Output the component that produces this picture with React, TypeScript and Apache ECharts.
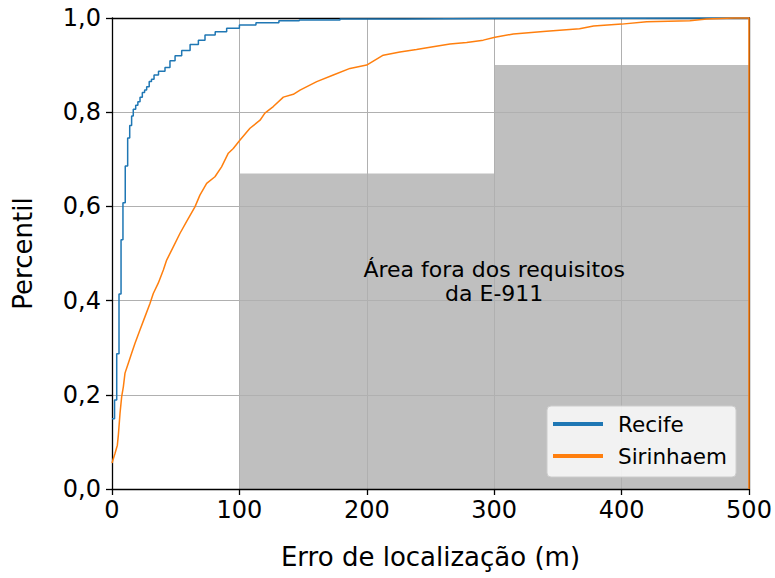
import React, { useEffect, useRef } from "react";
import * as echarts from "echarts";

// Recife CDF: error (m) at which the cumulative fraction changes, and its new value
const recifeX = [0, 2, 3.7, 5.5, 7.1, 8.6, 10.4, 12.3, 13.9, 15.4, 16.7, 18.6, 20.3, 22, 23.8, 25.6, 27.2, 29.2, 31, 33, 36.5, 41.6, 45.5, 49.5, 54.7, 61.3, 67.8, 73, 81, 90, 100, 113, 131, 147, 179, 230, 300, 500];
const recifeY = [0.149, 0.189, 0.287, 0.414, 0.529, 0.608, 0.686, 0.745, 0.772, 0.792, 0.806, 0.815, 0.822, 0.832, 0.842, 0.847, 0.854, 0.865, 0.87, 0.879, 0.887, 0.895, 0.909, 0.92, 0.931, 0.944, 0.953, 0.964, 0.971, 0.978, 0.985, 0.99, 0.994, 0.996, 0.998, 0.999, 1.0, 1.0];

// Sirinhaem CDF (fine steps, drawn as a continuous trace), ends with the drop at 500 m
const sirinhaemX = [0, 2.4, 4.2, 5, 6.3, 7.6, 8.9, 10.2, 12.8, 15.4, 18, 22, 25.9, 29.8, 32.4, 36.3, 40.3, 42.9, 48.1, 53.4, 58.6, 65.1, 69, 74.3, 80.8, 86, 91.3, 95.2, 100.5, 108.3, 116.2, 120, 126.6, 134.5, 142.3, 147.6, 160.7, 173.7, 186.8, 199.9, 212.9, 226, 239, 252, 265.3, 278.4, 291.4, 300.6, 315, 341, 367, 378, 400, 419.7, 453.6, 466.8, 487.7, 500, 500];
const sirinhaemY = [0.055, 0.076, 0.093, 0.115, 0.161, 0.196, 0.217, 0.246, 0.267, 0.288, 0.309, 0.338, 0.366, 0.394, 0.415, 0.437, 0.465, 0.486, 0.514, 0.543, 0.568, 0.599, 0.624, 0.649, 0.663, 0.684, 0.713, 0.723, 0.741, 0.766, 0.783, 0.798, 0.812, 0.832, 0.838, 0.847, 0.865, 0.879, 0.893, 0.9, 0.921, 0.928, 0.933, 0.939, 0.945, 0.948, 0.953, 0.959, 0.966, 0.972, 0.977, 0.983, 0.987, 0.992, 0.994, 0.998, 1.0, 1.0, 0.0];

// E-911 requirement-violation regions
const regionStart = [100, 300];
const regionEnd = [300, 500];
const regionTop = [0.67, 0.9];
const annotationText = "Área fora dos requisitos\nda E-911";
const annotationPos = [300, 0.44];

const seriesNames = ["Recife", "Sirinhaem"];
const xTicks = { min: 0, max: 500, interval: 100 };
const yTicks = { min: 0, max: 1, interval: 0.2 };

const FONT = "DejaVu Sans";

export default function App() {
  const ref = useRef<HTMLDivElement>(null);
  useEffect(() => {
    if (!ref.current) return;
    const chart = echarts.init(ref.current, null, { renderer: "svg" });
    const zip = (xs: number[], ys: number[]) => xs.map((x, i) => [x, ys[i]]);
    const areas = regionStart.map((s, i) => [
      { coord: [s, 0] },
      { coord: [regionEnd[i], regionTop[i]] },
    ]);
    const tickLabel = { color: "#000", fontFamily: FONT, fontSize: 24 };
    chart.setOption({
      animation: false,
      backgroundColor: "#fff",
      textStyle: { fontFamily: FONT },
      grid: { left: 112, right: 26, top: 18, bottom: 89 },
      legend: {
        data: seriesNames.map((n) => ({ name: n, icon: "rect" })),
        orient: "vertical",
        left: 547,
        top: 406,
        padding: [7, 9, 10, 6],
        itemGap: 10,
        itemWidth: 50,
        itemHeight: 4,
        backgroundColor: "rgba(255,255,255,0.8)",
        borderColor: "#cccccc",
        borderWidth: 1,
        borderRadius: 4,
        z: 10,
        textStyle: { fontFamily: FONT, fontSize: 21.5, color: "#000", padding: [0, 0, 0, 10] },
      },
      xAxis: [
        {
          type: "value",
          ...xTicks,
          z: 3,
          name: "Erro de localização (m)",
          nameLocation: "middle",
          nameGap: 55,
          nameTextStyle: { fontFamily: FONT, fontSize: 26, color: "#000" },
          axisLine: { show: true, onZero: false, lineStyle: { color: "#000", width: 1.3 } },
          axisTick: { show: true, length: 6, lineStyle: { color: "#000", width: 1.3 } },
          axisLabel: { ...tickLabel, margin: 9 },
          splitLine: { show: true, lineStyle: { color: "#b0b0b0", width: 1 } },
        },
        {
          type: "value",
          ...xTicks,
          position: "top",
          z: 3,
          axisLine: { show: true, onZero: false, lineStyle: { color: "#000", width: 1.3 } },
          axisTick: { show: false },
          axisLabel: { show: false },
          splitLine: { show: false },
        },
      ],
      yAxis: [
        {
          type: "value",
          ...yTicks,
          z: 3,
          name: "Percentil",
          nameLocation: "middle",
          nameGap: 76,
          nameTextStyle: { fontFamily: FONT, fontSize: 26, color: "#000" },
          axisLine: { show: true, onZero: false, lineStyle: { color: "#000", width: 1.3 } },
          axisTick: { show: true, length: 6, lineStyle: { color: "#000", width: 1.3 } },
          axisLabel: {
            ...tickLabel,
            margin: 11,
            formatter: (v: number) => v.toFixed(1).replace(".", ","),
          },
          splitLine: { show: true, lineStyle: { color: "#b0b0b0", width: 1 } },
        },
        {
          type: "value",
          ...yTicks,
          position: "right",
          z: 3,
          axisLine: { show: true, onZero: false, lineStyle: { color: "#000", width: 1.3 } },
          axisTick: { show: false },
          axisLabel: { show: false },
          splitLine: { show: false },
        },
      ],
      series: [
        {
          name: "regions",
          type: "line",
          data: [],
          z: 1,
          silent: true,
          markArea: {
            silent: true,
            itemStyle: { color: "#bfbfbf", opacity: 1 },
            data: areas,
          },
          markPoint: {
            silent: true,
            symbol: "circle",
            symbolSize: 0,
            data: [{ coord: annotationPos }],
            label: {
              show: true,
              position: "inside",
              formatter: annotationText,
              fontFamily: FONT,
              fontSize: 22,
              lineHeight: 24,
              color: "#000",
              align: "center",
            },
          },
        },
        {
          name: seriesNames[0],
          type: "line",
          step: "end",
          showSymbol: false,
          symbol: "none",
          z: 5,
          clip: false,
          color: "#1f77b4",
          lineStyle: { color: "#1f77b4", width: 1.5 },
          data: zip(recifeX, recifeY),
        },
        {
          name: seriesNames[1],
          type: "line",
          showSymbol: false,
          symbol: "none",
          z: 5,
          clip: false,
          color: "#ff7f0e",
          lineStyle: { color: "#ff7f0e", width: 1.5 },
          data: zip(sirinhaemX, sirinhaemY),
        },
      ],
    });
    return () => chart.dispose();
  }, []);
  return (
    <div
      ref={ref}
      style={{ position: "fixed", left: 0, top: 0, width: 775, height: 578 }}
    />
  );
}
